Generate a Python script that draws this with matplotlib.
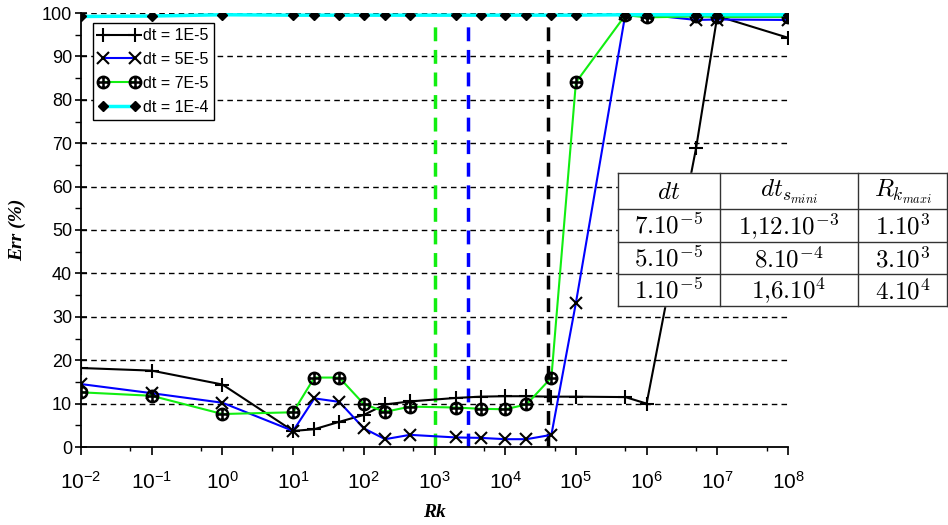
import matplotlib
matplotlib.use("Agg")
import matplotlib.pyplot as plt
from matplotlib.ticker import FixedLocator, NullFormatter

plt.rcParams['font.family'] = ['Liberation Sans', 'DejaVu Sans']
plt.rcParams['mathtext.default'] = 'regular'

# Rk values (shared by all series)
rk = [1e-2, 1e-1, 1e0, 1e1, 2e1, 4.5e1, 1e2, 2e2, 4.5e2, 2e3, 4.5e3,
      1e4, 2e4, 4.5e4, 1e5, 5e5, 1e6, 5e6, 1e7, 1e8]

err_1e5 = [18.2, 17.6, 14.4, 3.7, 4.1, 5.8, 7.4, 9.8, 10.5, 11.3, 11.6,
           11.7, 11.7, 11.6, 11.6, 11.5, 10.0, 68.8, 99.3, 94.3]
err_5e5 = [14.5, 12.4, 10.2, 3.7, 11.2, 10.4, 4.3, 1.8, 2.8, 2.2, 2.1,
           1.8, 1.8, 2.8, 33.2, 99.7, 99.6, 98.4, 98.5, 98.4]
err_7e5 = [12.6, 11.8, 7.6, 8.0, 16.0, 16.0, 9.9, 8.1, 9.3, 9.1, 8.8,
           8.7, 9.8, 16.0, 84.0, 99.5, 99.0, 99.2, 99.1, 99.1]
err_1e4 = [99.2, 99.3, 99.6, 99.5, 99.5, 99.5, 99.5, 99.5, 99.5, 99.5, 99.5,
           99.5, 99.5, 99.5, 99.5, 99.6, 99.6, 99.6, 99.6, 99.6]

series_labels = ['dt = 1E-5', 'dt = 5E-5', 'dt = 7E-5', 'dt = 1E-4']

# Rk_maxi limits (vertical dashed lines)
rk_max_lines = [1e3, 3e3, 4e4]
rk_max_colors = ['#11ee11', '#0000ff', 'black']

# table in the chart
table_header = [r'$\mathit{dt}$', r'$\mathit{dt}_{\mathit{s}_{\mathit{mini}}}$',
                r'$\mathit{R}_{\mathit{k}_{\mathit{maxi}}}$']
table_rows = [
    [r'$\mathrm{7.10^{-5}}$', r'$\mathrm{1{,}12.10^{-3}}$', r'$\mathrm{1.10^{3}}$'],
    [r'$\mathrm{5.10^{-5}}$', r'$\mathrm{8.10^{-4}}$', r'$\mathrm{3.10^{3}}$'],
    [r'$\mathrm{1.10^{-5}}$', r'$\mathrm{1{,}6.10^{4}}$', r'$\mathrm{4.10^{4}}$'],
]

fig = plt.figure(figsize=(9.48, 5.25), dpi=100)
ax = fig.add_axes([81 / 948, 1 - 447 / 525, 707 / 948, 434 / 525])

ax.set_xscale('log')
ax.set_xlim(1e-2, 1e8)
ax.set_ylim(0, 100)

# grid lines
for yv in range(10, 101, 10):
    ax.axhline(yv, color='black', lw=1.0, ls=(0, (4, 3)), zorder=1)

for xv, c in zip(rk_max_lines, rk_max_colors):
    ax.plot([xv, xv], [0, 98.5], color=c, lw=2.5, ls=(0, (4, 2.5)), zorder=2)

ax.plot(rk, err_1e5, color='black', lw=1.5, marker='+', ms=10, mew=1.5,
        mec='black', label=series_labels[0], zorder=3)
ax.plot(rk, err_5e5, color='#0000ff', lw=1.5, marker='x', ms=9, mew=1.5,
        mec='black', label=series_labels[1], zorder=4)
ax.plot(rk, err_7e5, color='#11ee11', lw=1.5, marker=r'$\oplus$', ms=9,
        mec='black', mfc='black', label=series_labels[2], zorder=5)
ax.plot(rk, err_1e4, color='#00ffff', lw=2.5, marker='D', ms=5,
        mec='black', mfc='black', label=series_labels[3], zorder=6)

# ticks
decades = [10.0 ** k for k in range(-2, 9)]
ax.xaxis.set_major_locator(FixedLocator(decades))
ax.set_xticklabels([r'$\mathregular{10^{%d}}$' % k for k in range(-2, 9)])
ax.xaxis.set_minor_locator(FixedLocator([5 * d for d in decades[:-1]]))
ax.xaxis.set_minor_formatter(NullFormatter())
ax.set_yticks(range(0, 101, 10))
ax.set_yticks(range(5, 100, 10), minor=True)
ax.tick_params(axis='x', which='major', direction='out', length=6, width=1.2,
               labelsize=15, pad=11)
ax.tick_params(axis='x', which='minor', direction='out', length=3, width=1.0)
ax.tick_params(axis='y', which='major', direction='inout', length=9, width=1.2,
               labelsize=13, pad=2)
ax.tick_params(axis='y', which='minor', direction='out', length=4, width=1.0)

for s in ['top', 'right']:
    ax.spines[s].set_visible(False)
for s in ['left', 'bottom']:
    ax.spines[s].set_linewidth(1.3)

ax.set_xlabel('Rk', family='Liberation Serif', weight='bold', style='italic',
              fontsize=14, labelpad=8)
ax.set_ylabel('Err (%)', family='Liberation Serif', weight='bold', style='italic',
              fontsize=14, labelpad=11)

leg = ax.legend(loc='upper left', bbox_to_anchor=(0.012, 0.985), fontsize=11.5,
                numpoints=2, handlelength=2.6, handletextpad=0.2,
                borderpad=0.35, labelspacing=0.55, fancybox=False,
                framealpha=1, edgecolor='black', borderaxespad=0.2)
leg.get_frame().set_linewidth(1.0)

# table overlay in pixel coordinates
tax = fig.add_axes([0, 0, 1, 1], zorder=10)
tax.set_xlim(0, 948)
tax.set_ylim(525, 0)
tax.axis('off')
col_edges = [618, 720, 858, 947]
row_edges = [173, 209, 242, 274, 306]
tax.fill_between([col_edges[0], col_edges[-1]], row_edges[0], row_edges[-1],
                 color='white', zorder=1)
for xe in col_edges:
    tax.plot([xe, xe], [row_edges[0], row_edges[-1]], color='#333333', lw=1.0, zorder=2)
for ye in row_edges:
    tax.plot([col_edges[0], col_edges[-1]], [ye, ye], color='#333333', lw=1.0, zorder=2)

all_rows = [table_header] + table_rows
for i, row in enumerate(all_rows):
    yc = (row_edges[i] + row_edges[i + 1]) / 2
    for j, txt in enumerate(row):
        xc = (col_edges[j] + col_edges[j + 1]) / 2
        tax.text(xc, yc + 1, txt, ha='center', va='center', fontsize=18,
                 math_fontfamily='cm', zorder=3)

fig.savefig('out.png', dpi=100)
